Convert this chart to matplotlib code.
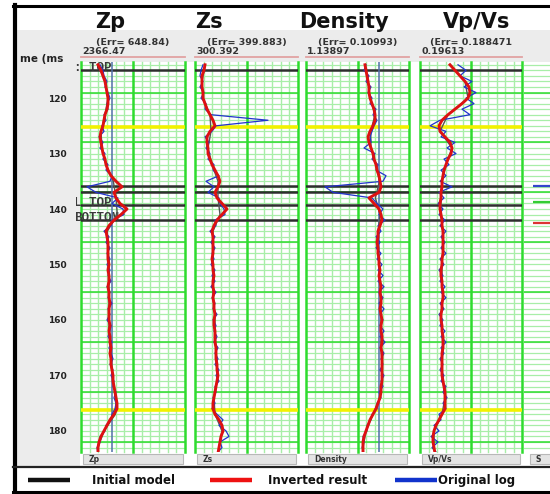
import numpy as np
import matplotlib.pyplot as plt
from matplotlib.lines import Line2D
from matplotlib.patches import Rectangle
from matplotlib.transforms import Bbox, TransformedBbox

W, H = 550, 494

# one sample per ms of two-way time
time_ms = np.arange(114, 185)

zp_inverted = [4066, 4366, 4566, 4766, 4866, 4966, 5066, 5066, 4966, 4766,
               4666, 4566, 4366, 4266, 4366, 4466, 4566, 4766, 4866, 5066,
               5366, 5866, 6466, 5666, 5866, 6266, 6966, 6366, 5666, 5166,
               4866, 4966, 5066, 5066, 5066, 5066, 5166, 5066, 5166, 5166,
               5066, 5166, 5166, 5266, 5166, 5166, 5166, 5266, 5166, 5266,
               5266, 5366, 5266, 5366, 5366, 5466, 5566, 5566, 5666, 5766,
               5866, 5966, 5966, 5666, 5266, 4966, 4666, 4366, 4166, 4066,
               4066]
zp_original = [4266, 4566, 4666, 4966, 4766, 5066, 5266, 4966, 5066, 4666,
               4866, 4466, 4666, 4166, 4566, 4266, 4766, 4566, 5066, 4866,
               5466, 5266, 2966, 3866, 6066, 5466, 6566, 6666, 5466, 5366,
               4666, 5166, 4866, 5266, 4966, 5266, 4966, 5266, 5066, 5366,
               4966, 5266, 5066, 5466, 5066, 5266, 4966, 5366, 5266, 5066,
               5466, 5166, 5366, 5566, 5266, 5566, 5366, 5666, 5566, 5866,
               5666, 5866, 5766, 5466, 5366, 4866, 4766, 4266, 4266, 3966,
               4066]

zs_inverted = [800, 750, 650, 650, 650, 700, 700, 800, 900, 1050,
               1200, 1300, 1050, 900, 900, 950, 950, 1050, 1150, 1300,
               1450, 1550, 1450, 1300, 1400, 1650, 1900, 1650, 1400, 1250,
               1150, 1200, 1200, 1200, 1200, 1150, 1200, 1200, 1250, 1200,
               1200, 1250, 1200, 1250, 1250, 1300, 1250, 1250, 1300, 1300,
               1300, 1350, 1350, 1350, 1400, 1400, 1450, 1400, 1350, 1300,
               1250, 1200, 1200, 1300, 1500, 1650, 1700, 1600, 1550, 1500,
               1450]
zs_original = [700, 600, 550, 700, 550, 750, 600, 850, 800, 1100,
               3950, 1350, 1150, 800, 1000, 850, 1050, 950, 1250, 1200,
               1500, 850, 1250, 950, 1500, 1550, 1750, 1800, 1300, 1350,
               1050, 1300, 1100, 1300, 1150, 1250, 1100, 1300, 1150, 1300,
               1100, 1350, 1150, 1300, 1200, 1400, 1200, 1350, 1250, 1400,
               1250, 1450, 1300, 1450, 1300, 1500, 1350, 1500, 1300, 1350,
               1200, 1300, 1150, 1400, 1700, 1500, 1850, 2000, 1550, 1650,
               1400]

density_inverted = [2.024, 2.039, 2.054, 2.069, 2.084, 2.084, 2.099, 2.129, 2.159, 2.174,
                    2.174, 2.144, 2.099, 2.069, 2.084, 2.114, 2.144, 2.159, 2.189, 2.204,
                    2.234, 2.249, 2.264, 2.234, 2.084, 2.159, 2.234, 2.264, 2.279, 2.249,
                    2.219, 2.219, 2.204, 2.219, 2.219, 2.234, 2.234, 2.249, 2.234, 2.249,
                    2.264, 2.249, 2.264, 2.264, 2.249, 2.264, 2.279, 2.264, 2.264, 2.279,
                    2.279, 2.264, 2.279, 2.279, 2.279, 2.279, 2.279, 2.279, 2.264, 2.264,
                    2.249, 2.219, 2.189, 2.144, 2.099, 2.069, 2.039, 2.009, 1.994, 1.994,
                    1.994]
density_original = [2.039, 2.009, 2.084, 2.039, 2.114, 2.069, 2.129, 2.099, 2.189, 2.144,
                    2.204, 2.159, 2.129, 2.099, 2.114, 2.009, 2.174, 2.129, 2.219, 2.189,
                    2.339, 2.294, 1.424, 1.544, 2.129, 2.204, 2.294, 2.234, 2.324, 2.219,
                    2.264, 2.189, 2.249, 2.189, 2.264, 2.204, 2.279, 2.219, 2.294, 2.219,
                    2.309, 2.234, 2.294, 2.234, 2.309, 2.249, 2.294, 2.249, 2.309, 2.249,
                    2.324, 2.249, 2.309, 2.264, 2.294, 2.249, 2.309, 2.264, 2.294, 2.234,
                    2.264, 2.204, 2.204, 2.129, 2.114, 2.054, 2.054, 1.994, 2.009, 1.979,
                    2.009]

vpvs_inverted = [1.80, 1.90, 2.00, 2.10, 2.18, 2.20, 2.16, 2.04, 1.90, 1.76,
                 1.64, 1.58, 1.60, 1.70, 1.80, 1.84, 1.82, 1.76, 1.72, 1.68,
                 1.66, 1.64, 1.64, 1.62, 1.62, 1.60, 1.60, 1.62, 1.64, 1.64,
                 1.66, 1.66, 1.66, 1.66, 1.66, 1.64, 1.64, 1.62, 1.62, 1.64,
                 1.64, 1.66, 1.66, 1.64, 1.64, 1.62, 1.62, 1.64, 1.64, 1.66,
                 1.66, 1.66, 1.64, 1.64, 1.64, 1.64, 1.64, 1.66, 1.68, 1.70,
                 1.70, 1.70, 1.70, 1.64, 1.58, 1.52, 1.48, 1.46, 1.46, 1.48,
                 1.50]
vpvs_original = [1.96, 2.12, 2.00, 2.24, 2.08, 2.32, 2.12, 2.28, 2.04, 2.20,
                 1.60, 1.40, 1.72, 1.62, 1.90, 1.74, 1.92, 1.68, 1.78, 1.62,
                 1.72, 1.60, 1.84, 1.58, 1.68, 1.56, 1.66, 1.58, 1.70, 1.60,
                 1.72, 1.62, 1.70, 1.62, 1.72, 1.60, 1.68, 1.58, 1.66, 1.60,
                 1.70, 1.62, 1.72, 1.60, 1.68, 1.58, 1.66, 1.60, 1.70, 1.62,
                 1.72, 1.62, 1.68, 1.60, 1.66, 1.60, 1.68, 1.62, 1.72, 1.66,
                 1.74, 1.66, 1.72, 1.58, 1.62, 1.48, 1.58, 1.42, 1.56, 1.44,
                 1.54]

# low-frequency starting model, every 3 ms
init_ms = [114, 117, 120, 123, 126, 129, 132, 135, 138, 141, 144, 147,
           150, 153, 156, 159, 162, 165, 168, 171, 174, 177, 180, 183]
zp_initial = [4066, 4766, 5066, 4766, 4366, 4466, 4866, 5600, 5866, 6000, 5000, 5066,
              5166, 5166, 5166, 5166, 5166, 5366, 5366, 5566, 5900, 5800, 4666, 4066]
zs_initial = [800, 650, 700, 1050, 1100, 950, 1150, 1450, 1450, 1550, 1200, 1200,
              1200, 1200, 1200, 1300, 1300, 1350, 1400, 1400, 1250, 1300, 1650, 1500]
density_initial = [2.024, 2.069, 2.099, 2.174, 2.110, 2.114, 2.189, 2.240, 2.180, 2.250,
                   2.219, 2.219, 2.234, 2.249, 2.264, 2.264, 2.264, 2.264, 2.279, 2.279,
                   2.249, 2.144, 2.039, 1.994]
vpvs_initial = [1.80, 2.10, 2.16, 1.76, 1.60, 1.84, 1.72, 1.64, 1.62, 1.62, 1.66, 1.66,
                1.64, 1.64, 1.66, 1.62, 1.64, 1.66, 1.64, 1.66, 1.70, 1.64, 1.48, 1.48]

# flat logs shown in the Zp and Density tracks
zp_flat = 5466
density_flat = 2.234

horizon_ms = [115.0, 135.9, 137.0, 139.3, 141.9]
horizon_names = [": TOP", "", "", "L TOP", "BOTTOM"]
window_ms = [125.2, 176.2]
major_grid_ms = [119, 128, 137, 146, 155, 164, 173, 182]
tops_ms = [135.9, 138.7, 142.5]
tops_colors = ["#3344cc", "#33cc33", "#dd3333"]

time_ticks = [120, 130, 140, 150, 160, 170, 180]
t_top, t_bottom = 113.5, 183.8

titles = ["Zp", "Zs", "Density", "Vp/Vs"]
err_labels = ["(Err= 648.84)", "(Err= 399.883)", "(Err= 0.10993)", "(Err= 0.188471"]
scale_labels = ["2366.47", "300.392", "1.13897", "0.19613"]
xlims = [(2366.47, 12766.47), (300.392, 5450.392), (1.13897, 2.68397), (1.2, 3.24)]
tracks = [
    (zp_initial, zp_inverted, zp_original, zp_flat),
    (zs_initial, zs_inverted, zs_original, None),
    (density_initial, density_inverted, density_original, density_flat),
    (vpvs_initial, vpvs_inverted, vpvs_original, None),
]

# layout in pixels
panel_px = [(81, 185), (195, 298), (306, 409), (420, 522)]
title_px = [110, 209, 344, 477]
PANEL_TOP, PANEL_BOT = 62, 452

BRIGHT = "#2edc2e"
LIGHT = "#a8eea8"
BOLD = dict(fontweight="bold", family="DejaVu Sans")


def box(x0, y0, x1, y1):
    return [x0 / W, 1 - y1 / H, (x1 - x0) / W, (y1 - y0) / H]


def fig_line(x0, y0, x1, y1, **kw):
    fig.add_artist(Line2D([x0 / W, x1 / W], [1 - y0 / H, 1 - y1 / H],
                          transform=fig.transFigure, **kw))


def fig_rect(x0, y0, x1, y1, **kw):
    fig.add_artist(Rectangle((x0 / W, 1 - y1 / H), (x1 - x0) / W, (y1 - y0) / H,
                             transform=fig.transFigure, **kw))


fig = plt.figure(figsize=(W / 100, H / 100), dpi=100)
fig.patch.set_facecolor("white")

# grey header band and time column
fig_rect(17, 30, 550, PANEL_TOP, facecolor="#ececec", edgecolor="none", zorder=0)
fig_rect(17, PANEL_TOP, 80, 466, facecolor="#ececec", edgecolor="none", zorder=0)


def grid(ax, lo, hi, vertical=True):
    for t in np.arange(114, 184):
        ax.axhline(t, color=LIGHT, lw=0.9, zorder=1)
    for t in major_grid_ms:
        ax.axhline(t, color=BRIGHT, lw=1.1, zorder=1.1)
    if vertical:
        for i, gx in enumerate(np.linspace(lo, hi, 13)):
            major = i % 6 == 0
            ax.axvline(gx, color=BRIGHT if major else LIGHT,
                       lw=1.8 if major else 1.0, zorder=1.2 if major else 1,
                       clip_on=False)


for k, (x0, x1) in enumerate(panel_px):
    lo, hi = xlims[k]
    initial, inverted, original, flat = tracks[k]
    ax = fig.add_axes(box(x0, PANEL_TOP, x1, PANEL_BOT))
    ax.set_xlim(lo, hi)
    ax.set_ylim(t_bottom, t_top)
    for sp in ax.spines.values():
        sp.set_visible(False)
    ax.set_xticks([])
    if k == 0:
        ax.set_yticks(time_ticks)
        ax.set_yticklabels([str(t) for t in time_ticks], fontsize=6.5,
                           color="#222222", **BOLD)
        ax.tick_params(axis="y", length=0, pad=10)
        clip = TransformedBbox(Bbox.from_extents(76 / W, 0, 1, 1), fig.transFigure)
        for t, name in zip(horizon_ms, horizon_names):
            if name:
                txt = ax.text(-0.065, t - 0.35, name, transform=ax.get_yaxis_transform(),
                              ha="left", va="center", fontsize=9, color="#3a3a3a",
                              family="Liberation Mono", fontweight="bold", zorder=2.5)
                txt.set_clip_box(clip)
                txt.set_clip_on(True)
    else:
        ax.set_yticks([])

    grid(ax, lo, hi)
    for t in window_ms:
        ax.axhline(t, color="#f2f200", lw=2.6, zorder=2)
    for t in horizon_ms:
        ax.axhline(t, color="#2e2e2e", lw=1.8, zorder=2.2)
    if flat is not None:
        ax.axvline(flat, color="#5070a8", lw=1.1, zorder=3)

    ax.plot(initial, init_ms, color="#555555", lw=1.0, zorder=3.5)
    ax.plot(original, time_ms, color="#2233cc", lw=0.9, zorder=4)
    ax.plot(inverted, time_ms, color="#dd1111", lw=2.1, zorder=5)

    # header: title, misfit, scale minimum
    fig.text(title_px[k] / W, 1 - 22 / H, titles[k], ha="center", va="center",
             fontsize=15, color="#111111", **BOLD)
    fig.text((x0 + x1) / 2 / W, 1 - 43 / H, err_labels[k], ha="center",
             va="center", fontsize=6.8, color="#333333", **BOLD)
    fig.text((x0 + 1) / W, 1 - 51 / H, scale_labels[k], ha="left",
             va="center", fontsize=6.8, color="#333333", **BOLD)
    fig_line(x0, 57, x1, 57, color="#e2a2a2", lw=1.3)

    # track tab below the panel
    fig_rect(x0 + 2, 454, x1 - 2, 464, facecolor="#e4e4e4", edgecolor="#b8b8b8",
             lw=0.8, zorder=1)
    fig.text((x0 + 8) / W, 1 - 459 / H, titles[k], ha="left", va="center",
             fontsize=5.5, color="#333333", **BOLD)

# partial fifth track at the right edge
ax5 = fig.add_axes(box(524, PANEL_TOP, 575, PANEL_BOT))
ax5.set_xlim(0, 1)
ax5.set_ylim(t_bottom, t_top)
ax5.axis("off")
grid(ax5, 0, 1, vertical=False)
for t, c in zip(tops_ms, tops_colors):
    ax5.hlines(t, 0.18, 1.0, color=c, lw=1.6, zorder=3)
fig_rect(530, 454, 575, 464, facecolor="#e4e4e4", edgecolor="#b8b8b8", lw=0.8, zorder=1)
fig.text(536 / W, 1 - 459 / H, "S", ha="left", va="center", fontsize=5.5,
         color="#333333", **BOLD)

fig.text(20 / W, 1 - 59 / H, "me (ms", ha="left", va="center", fontsize=7.5,
         color="#222222", **BOLD)

# legend strip
legend_items = [("Initial model", "#111111"), ("Inverted result", "#ee1111"),
                ("Original log", "#1133cc")]
swatch_px = [(28, 70, 92), (210, 252, 268), (395, 437, 438)]
for (label, color), (sx0, sx1, tx) in zip(legend_items, swatch_px):
    fig_line(sx0, 480, sx1, 480, color=color, lw=3.2, solid_capstyle="butt")
    fig.text(tx / W, 1 - 480 / H, label, ha="left", va="center", fontsize=8.5,
             color="#111111", **BOLD)

# frame
fig_line(13, 6, 550, 6, color="black", lw=2.2)
fig_line(15, 5, 15, 493, color="black", lw=3.0)
fig_line(13, 467, 550, 467, color="#222222", lw=1.6)
fig_line(13, 491.5, 550, 491.5, color="black", lw=2.2)

fig.savefig("out.png", dpi=100)
